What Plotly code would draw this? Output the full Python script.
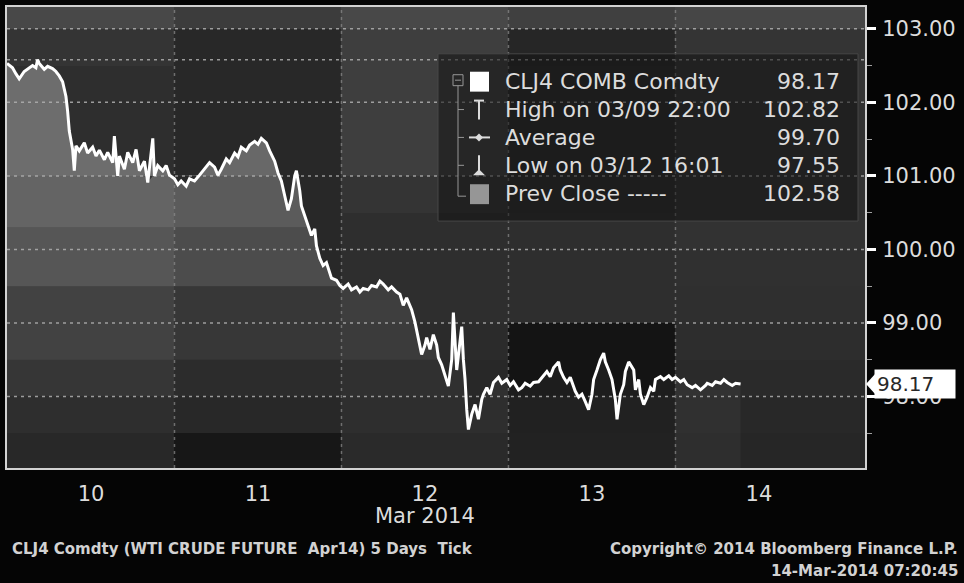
import numpy as np
import plotly.graph_objects as go

# ---------------- data ----------------
times = [9.497, 9.53, 9.55, 9.57, 9.60, 9.62, 9.65, 9.67, 9.68, 9.69, 9.72, 9.74, 9.77, 9.79, 9.81, 9.83,
         9.85, 9.86, 9.87, 9.89, 9.90, 9.91, 9.93, 9.96, 9.98, 10.01, 10.03, 10.05, 10.08, 10.10, 10.13,
         10.14, 10.16, 10.17, 10.20, 10.22, 10.25, 10.27, 10.29, 10.32, 10.34, 10.37, 10.38, 10.40, 10.43,
         10.45, 10.47, 10.50, 10.52, 10.54, 10.57, 10.59, 10.62, 10.65, 10.68, 10.71, 10.74, 10.76, 10.78,
         10.81, 10.83, 10.86, 10.88, 10.90, 10.93, 10.95, 10.98, 11.00, 11.02, 11.05, 11.07, 11.10, 11.12,
         11.14, 11.16, 11.18, 11.20, 11.22, 11.23, 11.25, 11.26, 11.28, 11.30, 11.32, 11.34, 11.35, 11.37,
         11.39, 11.41, 11.43, 11.44, 11.47, 11.49, 11.51, 11.54, 11.56, 11.59, 11.61, 11.63, 11.66, 11.68,
         11.71, 11.73, 11.75, 11.78, 11.80, 11.83, 11.85, 11.87, 11.89, 11.90, 11.92, 11.94, 11.96, 11.98,
         12.00, 12.01, 12.03, 12.05, 12.07, 12.08, 12.10, 12.12, 12.14, 12.16, 12.17, 12.19, 12.20, 12.22,
         12.23, 12.24, 12.25, 12.26, 12.28, 12.30, 12.32, 12.34, 12.35, 12.37, 12.39, 12.41, 12.44, 12.46,
         12.49, 12.51, 12.53, 12.56, 12.58, 12.60, 12.63, 12.65, 12.68, 12.70, 12.73, 12.75, 12.77, 12.80,
         12.81, 12.83, 12.85, 12.87, 12.89, 12.90, 12.92, 12.94, 12.96, 12.98, 13.00, 13.01, 13.03, 13.05,
         13.07, 13.08, 13.10, 13.12, 13.14, 13.15, 13.17, 13.19, 13.20, 13.22, 13.25, 13.26, 13.28, 13.29,
         13.31, 13.33, 13.35, 13.37, 13.38, 13.41, 13.43, 13.46, 13.48, 13.50, 13.53, 13.55, 13.57, 13.60,
         13.62, 13.65, 13.68, 13.69, 13.72, 13.74, 13.77, 13.79, 13.81, 13.84, 13.86, 13.89]
prices = [102.53, 102.47, 102.39, 102.32, 102.42, 102.45, 102.50, 102.47, 102.58, 102.53, 102.45, 102.49,
          102.46, 102.42, 102.36, 102.28, 102.08, 101.88, 101.61, 101.36, 101.07, 101.41, 101.34, 101.45,
          101.31, 101.39, 101.27, 101.35, 101.22, 101.32, 101.18, 101.54, 101.00, 101.27, 101.09, 101.32,
          101.18, 101.36, 101.07, 101.20, 100.91, 101.51, 101.00, 101.14, 101.07, 101.14, 101.01, 100.96,
          100.88, 100.93, 100.86, 100.96, 100.93, 101.01, 101.09, 101.18, 101.12, 101.01, 101.09, 101.23,
          101.18, 101.31, 101.26, 101.39, 101.34, 101.42, 101.47, 101.43, 101.51, 101.45, 101.34, 101.20,
          101.04, 100.93, 100.73, 100.53, 100.69, 101.00, 101.07, 100.80, 100.59, 100.46, 100.32, 100.19,
          100.28, 100.05, 99.88, 99.78, 99.82, 99.69, 99.61, 99.58, 99.51, 99.47, 99.53, 99.45, 99.49,
          99.42, 99.47, 99.45, 99.51, 99.49, 99.57, 99.53, 99.45, 99.49, 99.42, 99.39, 99.24, 99.34, 99.28,
          99.18, 99.01, 98.77, 98.57, 98.70, 98.80, 98.64, 98.84, 98.70, 98.53, 98.43, 98.30, 98.14, 98.50,
          99.14, 98.36, 98.57, 98.95, 98.50, 98.23, 97.82, 97.55, 97.76, 97.89, 97.69, 97.96, 98.03, 98.12,
          98.03, 98.19, 98.26, 98.18, 98.23, 98.15, 98.20, 98.09, 98.12, 98.18, 98.14, 98.19, 98.20, 98.26,
          98.34, 98.27, 98.39, 98.47, 98.36, 98.26, 98.19, 98.26, 98.12, 98.07, 97.99, 98.03, 97.93, 97.82,
          98.03, 98.23, 98.36, 98.50, 98.59, 98.47, 98.36, 98.23, 97.96, 97.69, 98.03, 98.16, 98.34, 98.47,
          98.36, 98.09, 98.23, 98.03, 97.89, 97.99, 98.12, 98.07, 98.23, 98.27, 98.23, 98.28, 98.23, 98.26,
          98.20, 98.23, 98.16, 98.12, 98.15, 98.09, 98.15, 98.18, 98.15, 98.20, 98.18, 98.23, 98.19, 98.15,
          98.18, 98.17]

last_price = 98.17
prev_close = 102.58
y_ticks = [97, 98, 99, 100, 101, 102, 103]
y_tick_text = ["97.00", "98.00", "99.00", "100.00", "101.00", "102.00", "103.00"]
y_minor = [97.5, 98.5, 99.5, 100.5, 101.5, 102.5]
x_ticks = [10, 11, 12, 13, 14]
x_tick_text = ["10", "11", "12", "13", "14"]
x_title = "Mar 2014"
day_bounds = [10.5, 11.5, 12.5, 13.5]

# background shading cells (gray level), columns = trading days, rows = price bands
bg_x_edges = [9.497, 10.5, 11.5, 12.5, 13.5, 14.635]
bg_y_edges = [97.027, 97.5, 98.0, 98.5, 99.0, 99.5, 100.0, 100.5, 101.0, 101.5, 102.0, 102.5, 103.0, 103.297]
bg_gray = [
    [32, 14, 34, 26, 38],
    [38, 32, 38, 24, 40],
    [46, 36, 40, 20, 42],
    [50, 38, 43, 20, 45],
    [50, 38, 46, 46, 47],
    [52, 40, 46, 46, 48],
    [52, 40, 46, 46, 50],
    [52, 40, 52, 43, 50],
    [46, 40, 62, 40, 50],
    [46, 40, 62, 40, 50],
    [46, 40, 62, 40, 52],
    [52, 40, 62, 38, 52],
    [72, 60, 72, 64, 70],
]
# gradient bands of the area fill under the line: (low, high, opacity)
fill_bands = [(101.0, 103.297, 0.30), (100.3, 101.0, 0.24), (99.5, 100.3, 0.17),
              (98.5, 99.5, 0.08), (97.027, 98.5, 0.04)]

legend_rows = [("CLJ4 COMB Comdty", "98.17"), ("High on 03/09 22:00", "102.82"),
               ("Average", "99.70"), ("Low on 03/12 16:01", "97.55"),
               ("Prev Close -----", "102.58")]

X_RANGE = [9.497, 14.635]
Y_RANGE = [97.027, 103.297]

# ---------------- figure ----------------
FONT = "DejaVu Sans"
LIGHT = "rgb(220,220,220)"
fig = go.Figure()

fig.add_trace(go.Heatmap(x=bg_x_edges, y=bg_y_edges, z=bg_gray, zmin=0, zmax=255,
                         colorscale=[[0, "rgb(0,0,0)"], [1, "rgb(255,255,255)"]],
                         showscale=False, hoverinfo="skip"))

p = np.array(prices)
for lo, hi, a in fill_bands:
    fig.add_trace(go.Scatter(x=times, y=[lo] * len(times), mode="lines",
                             line=dict(width=0), hoverinfo="skip", showlegend=False))
    fig.add_trace(go.Scatter(x=times, y=np.clip(p, lo, hi), mode="lines", line=dict(width=0),
                             fill="tonexty", fillcolor=f"rgba(255,255,255,{a})",
                             hoverinfo="skip", showlegend=False))

# grid lines
GRID = dict(color="rgba(175,175,175,0.85)", width=1.5, dash="3px,4px")
for yv in y_ticks:
    fig.add_trace(go.Scatter(x=X_RANGE, y=[yv, yv], mode="lines", line=GRID,
                             hoverinfo="skip", showlegend=False))
for xv in day_bounds:
    fig.add_trace(go.Scatter(x=[xv, xv], y=Y_RANGE, mode="lines",
                             line=dict(color="rgba(140,140,140,0.7)", width=1.5, dash="3px,4px"),
                             hoverinfo="skip", showlegend=False))
fig.add_trace(go.Scatter(x=X_RANGE, y=[prev_close, prev_close], mode="lines", line=GRID,
                         hoverinfo="skip", showlegend=False))

fig.add_trace(go.Scatter(x=times, y=prices, mode="lines",
                         line=dict(color="white", width=3), showlegend=False))

# ---------------- layout helpers ----------------
L, R, T, B = 7, 865, 5, 468


def px(x):
    return (x - L) / (R - L)


def py(y):
    return (B - y) / (B - T)


shapes = []
annotations = []

# legend box
shapes.append(dict(type="rect", xref="paper", yref="paper", x0=px(438), x1=px(858), y0=py(220), y1=py(52),
                   fillcolor="rgba(18,18,18,0.55)", line=dict(color="rgba(70,70,70,1)", width=1), layer="above"))
row_y = [80, 108, 136, 164, 192]
for (lab, val), yy in zip(legend_rows, row_y):
    annotations.append(dict(xref="paper", yref="paper", x=px(503), y=py(yy), text=lab, showarrow=False,
                            xanchor="left", yanchor="middle", font=dict(family=FONT, size=22, color=LIGHT)))
    annotations.append(dict(xref="paper", yref="paper", x=px(842), y=py(yy), text=val, showarrow=False,
                            xanchor="right", yanchor="middle", font=dict(family=FONT, size=22, color=LIGHT)))
tree = "rgb(150,150,150)"
shapes.append(dict(type="rect", xref="paper", yref="paper", x0=px(453), x1=px(463), y0=py(84), y1=py(73),
                   line=dict(color=tree, width=1)))
shapes.append(dict(type="line", xref="paper", yref="paper", x0=px(455), x1=px(461), y0=py(78.5), y1=py(78.5),
                   line=dict(color=tree, width=1)))
shapes.append(dict(type="line", xref="paper", yref="paper", x0=px(458), x1=px(458), y0=py(84), y1=py(195),
                   line=dict(color=tree, width=1)))
for yy in [108, 136, 164]:
    shapes.append(dict(type="line", xref="paper", yref="paper", x0=px(458), x1=px(464), y0=py(yy), y1=py(yy),
                       line=dict(color=tree, width=1)))
shapes.append(dict(type="line", xref="paper", yref="paper", x0=px(458), x1=px(466), y0=py(195), y1=py(195),
                   line=dict(color=tree, width=1)))
shapes.append(dict(type="rect", xref="paper", yref="paper", x0=px(470), x1=px(489), y0=py(90), y1=py(70),
                   fillcolor="white", line=dict(width=0)))
shapes.append(dict(type="line", xref="paper", yref="paper", x0=px(479), x1=px(479), y0=py(99), y1=py(118),
                   line=dict(color=LIGHT, width=2)))
shapes.append(dict(type="line", xref="paper", yref="paper", x0=px(474), x1=px(484), y0=py(99), y1=py(99),
                   line=dict(color=LIGHT, width=2)))
shapes.append(dict(type="line", xref="paper", yref="paper", x0=px(469), x1=px(490), y0=py(136), y1=py(136),
                   line=dict(color=LIGHT, width=2)))
shapes.append(dict(type="path", xref="paper", yref="paper",
                   path=f"M {px(475)} {py(136)} L {px(479)} {py(132)} L {px(483)} {py(136)} L {px(479)} {py(140)} Z",
                   fillcolor=LIGHT, line=dict(width=0)))
shapes.append(dict(type="line", xref="paper", yref="paper", x0=px(479), x1=px(479), y0=py(154), y1=py(173),
                   line=dict(color=LIGHT, width=2)))
shapes.append(dict(type="path", xref="paper", yref="paper",
                   path=f"M {px(473)} {py(174)} L {px(485)} {py(174)} L {px(479)} {py(168)} Z",
                   fillcolor=LIGHT, line=dict(width=0)))
shapes.append(dict(type="rect", xref="paper", yref="paper", x0=px(470), x1=px(489), y0=py(203), y1=py(183),
                   fillcolor="rgb(150,150,150)", line=dict(width=0)))

# last price tag
shapes.append(dict(type="path", xref="paper", yref="y",
                   path=f"M {px(866)} {last_price} L {px(876)} {last_price + 0.15} L {px(876)} {last_price - 0.15} Z",
                   fillcolor="white", line=dict(width=0)))
annotations.append(dict(xref="paper", yref="y", x=px(874), y=last_price, text=f"{last_price:.2f}",
                        showarrow=False, xanchor="left", yanchor="middle", bgcolor="white", width=76,
                        align="left", borderpad=2, font=dict(family=FONT, size=20, color="rgb(40,40,40)")))

# axis title under the "12" tick
annotations.append(dict(xref="x", yref="paper", x=12, y=py(516), text=x_title, showarrow=False,
                        xanchor="center", yanchor="middle", font=dict(family=FONT, size=21, color=LIGHT)))

# footer text
FOOT = dict(family="DejaVu Sans", size=15, weight="bold", color="rgb(210,210,210)")
annotations.append(dict(xref="paper", yref="paper", x=px(10), y=py(549),
                        text="CLJ4 Comdty (WTI CRUDE FUTURE  Apr14) 5 Days  Tick", showarrow=False,
                        xanchor="left", yanchor="middle", font=FOOT))
annotations.append(dict(xref="paper", yref="paper", x=px(960), y=py(549),
                        text="Copyright© 2014 Bloomberg Finance L.P.", showarrow=False,
                        xanchor="right", yanchor="middle", font=FOOT))
annotations.append(dict(xref="paper", yref="paper", x=px(960), y=py(571),
                        text="14-Mar-2014 07:20:45", showarrow=False,
                        xanchor="right", yanchor="middle", font=FOOT))

fig.update_layout(
    width=964, height=583,
    margin=dict(l=L, r=964 - R, t=T, b=583 - B),
    paper_bgcolor="rgb(5,5,5)", plot_bgcolor="rgb(40,40,40)",
    showlegend=False,
    shapes=shapes, annotations=annotations,
    xaxis=dict(range=X_RANGE, tickmode="array", tickvals=x_ticks, ticktext=x_tick_text,
               showgrid=False, zeroline=False, ticks="", ticklabelstandoff=6,
               tickfont=dict(family=FONT, size=21, color=LIGHT),
               showline=True, mirror=True, linecolor="rgb(210,210,210)", linewidth=2),
    yaxis=dict(range=Y_RANGE, side="right", tickmode="array", tickvals=y_ticks, ticktext=y_tick_text,
               showgrid=False, zeroline=False, ticks="outside", ticklen=9, tickwidth=3, tickcolor="white",
               ticklabelstandoff=2,
               minor=dict(tickmode="array", tickvals=y_minor,
                          ticks="outside", ticklen=5, tickcolor="rgb(160,160,160)", tickwidth=1),
               tickfont=dict(family=FONT, size=21, color=LIGHT),
               showline=True, mirror=True, linecolor="rgb(210,210,210)", linewidth=2),
)

fig.write_html("out.html", config={"displayModeBar": False},
               post_script="document.body.style.margin='0';document.body.style.background='rgb(5,5,5)';")
